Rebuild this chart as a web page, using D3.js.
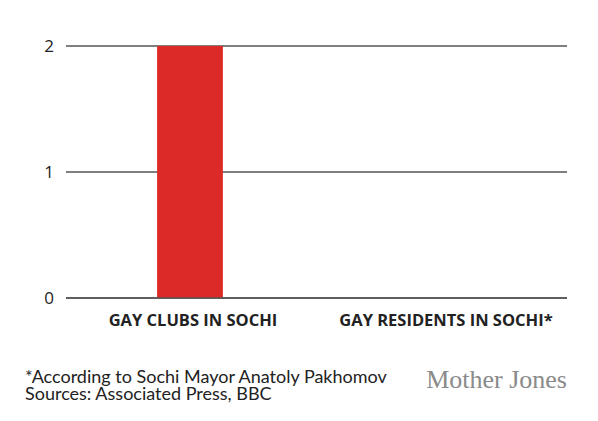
<!DOCTYPE html>
<html>
<head>
<meta charset="utf-8">
<script src="https://d3js.org/d3.v7.min.js"></script>
<style>
  body { margin: 0; background: #fff; }
</style>
</head>
<body>
<div id="chart"></div>
<script>
// chart data
var categories = ["GAY CLUBS IN SOCHI", "GAY RESIDENTS IN SOCHI*"];
var values = [2, 0];
var yTicks = [0, 1, 2];
var notes = ["*According to Sochi Mayor Anatoly Pakhomov", "Sources: Associated Press, BBC"];

var W = 598, H = 421;
var margin = {top: 46, right: 31, bottom: 123, left: 66},
    width = W - margin.left - margin.right,
    height = H - margin.top - margin.bottom;

var svg = d3.select("#chart").append("svg")
    .attr("width", W).attr("height", H);
var g = svg.append("g")
    .attr("transform", "translate(" + margin.left + "," + margin.top + ")");

var x = d3.scaleBand().domain(categories).range([0, width])
    .paddingInner(0.74).paddingOuter(0.36);
var y = d3.scaleLinear().domain([0, 2]).range([height, 0]);

// gridlines
g.selectAll("line.grid").data(yTicks).enter().append("line")
    .attr("class", "grid")
    .attr("x1", 0).attr("x2", width)
    .attr("y1", function(d) { return y(d); })
    .attr("y2", function(d) { return y(d); })
    .attr("stroke", "#555").attr("stroke-width", 1.3);

// y labels
g.selectAll("text.ylab").data(yTicks).enter().append("text")
    .attr("class", "ylab")
    .attr("x", -12)
    .attr("y", function(d) { return y(d); })
    .attr("dy", "0.36em")
    .attr("text-anchor", "end")
    .attr("font-family", "Open Sans, sans-serif")
    .attr("font-size", 17)
    .attr("fill", "#222")
    .text(function(d) { return d; });

// bars
g.selectAll("rect").data(categories).enter().append("rect")
    .attr("x", function(d) { return x(d); })
    .attr("y", function(d, i) { return y(values[i]); })
    .attr("width", x.bandwidth())
    .attr("height", function(d, i) { return height - y(values[i]); })
    .attr("fill", "#dc2a26");

// redraw baseline over bar
g.append("line")
    .attr("x1", 0).attr("x2", width)
    .attr("y1", y(0)).attr("y2", y(0))
    .attr("stroke", "#555").attr("stroke-width", 1.3);

// category labels
g.selectAll("text.xlab").data(categories).enter().append("text")
    .attr("class", "xlab")
    .attr("x", function(d) { return x(d) + x.bandwidth() / 2 + 3; })
    .attr("y", height + 28)
    .attr("text-anchor", "middle")
    .attr("font-family", "Open Sans, sans-serif")
    .attr("font-weight", "bold")
    .attr("font-size", 16.5)
    .attr("fill", "#222")
    .text(function(d) { return d; });

// footnotes
svg.selectAll("text.note").data(notes).enter().append("text")
    .attr("class", "note")
    .attr("x", 25)
    .attr("y", function(d, i) { return 383 + i * 17; })
    .attr("font-family", "Lato, sans-serif")
    .attr("font-size", 18)
    .attr("fill", "#222")
    .text(function(d) { return d; });

svg.append("text")
    .attr("x", 567).attr("y", 388)
    .attr("text-anchor", "end")
    .attr("font-family", "Liberation Serif, serif")
    .attr("font-size", 26)
    .attr("fill", "#8a8a8a")
    .text("Mother Jones");
</script>
</body>
</html>
